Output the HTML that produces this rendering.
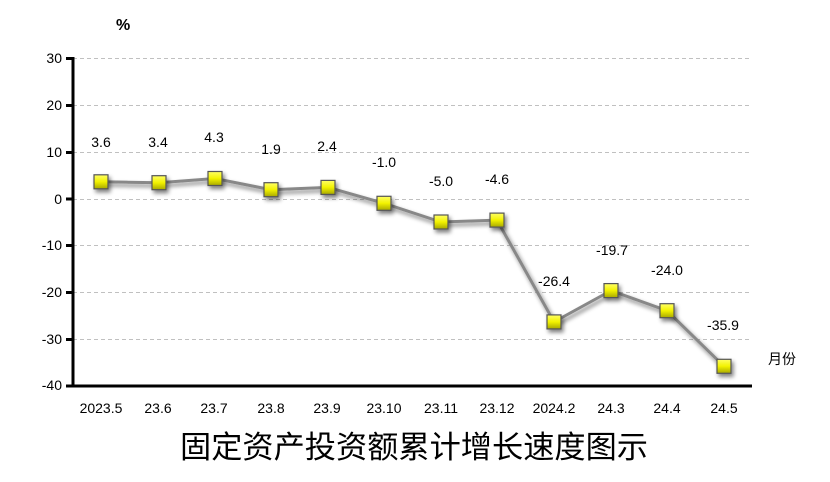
<!DOCTYPE html>
<html><head><meta charset="utf-8"><style>
html,body{margin:0;padding:0;background:#fff;}
svg{display:block;}
text{font-family:"Liberation Sans","Noto Sans CJK SC",sans-serif;}
</style></head><body>
<svg width="830" height="482" viewBox="0 0 830 482" xmlns="http://www.w3.org/2000/svg">
<defs>
<linearGradient id="g" x1="0" y1="0" x2="0" y2="1">
<stop offset="0" stop-color="#ffff66"/><stop offset="0.5" stop-color="#f2f200"/><stop offset="1" stop-color="#a8a800"/>
</linearGradient>
<filter id="sh" x="-50%" y="-50%" width="200%" height="200%"><feGaussianBlur in="SourceAlpha" stdDeviation="2"/><feOffset dx="2" dy="3"/><feComponentTransfer><feFuncA type="linear" slope="0.5"/></feComponentTransfer><feMerge><feMergeNode/><feMergeNode in="SourceGraphic"/></feMerge></filter>
</defs>
<g stroke="#c0c0c0" stroke-width="1" stroke-dasharray="4,3">
<line x1="73" y1="58.5" x2="752" y2="58.5"/>
<line x1="73" y1="105.5" x2="752" y2="105.5"/>
<line x1="73" y1="152.5" x2="752" y2="152.5"/>
<line x1="73" y1="199.5" x2="752" y2="199.5"/>
<line x1="73" y1="245.5" x2="752" y2="245.5"/>
<line x1="73" y1="292.5" x2="752" y2="292.5"/>
<line x1="73" y1="339.5" x2="752" y2="339.5"/>
</g>
<g stroke="#000" stroke-width="3">
<line x1="73" y1="57" x2="73" y2="387"/>
<line x1="72" y1="386" x2="752" y2="386"/>
</g>
<g stroke="#000" stroke-width="3">
<line x1="66" y1="58.5" x2="73" y2="58.5"/><line x1="66" y1="105.5" x2="73" y2="105.5"/><line x1="66" y1="152.5" x2="73" y2="152.5"/><line x1="66" y1="199" x2="73" y2="199"/><line x1="66" y1="245.5" x2="73" y2="245.5"/><line x1="66" y1="292.5" x2="73" y2="292.5"/><line x1="66" y1="339.5" x2="73" y2="339.5"/><line x1="66" y1="386" x2="73" y2="386"/>
</g>
<g font-size="14" text-anchor="end" fill="#000">
<text x="62" y="63">30</text><text x="62" y="110">20</text><text x="62" y="157">10</text><text x="62" y="204">0</text><text x="62" y="250">-10</text><text x="62" y="297">-20</text><text x="62" y="344">-30</text><text x="62" y="390">-40</text>
</g>
<text x="116" y="30" font-size="16" font-weight="bold">%</text>
<polyline fill="none" stroke="#888" stroke-width="3" filter="url(#sh)" points="101,181.8 159,182.7 215,178.5 271,189.7 328,187.4 384,203.3 441,222 497,220.1 554,321.9 611,290.6 667,310.7 724,366.3"/>
<g fill="url(#g)" stroke="#555" stroke-width="1.2" filter="url(#sh)">
<rect x="94" y="174.8" width="14" height="14"/><rect x="152" y="175.7" width="14" height="14"/><rect x="208" y="171.5" width="14" height="14"/><rect x="264" y="182.7" width="14" height="14"/><rect x="321" y="180.4" width="14" height="14"/><rect x="377" y="196.3" width="14" height="14"/><rect x="434" y="215" width="14" height="14"/><rect x="490" y="213.1" width="14" height="14"/><rect x="547" y="314.9" width="14" height="14"/><rect x="604" y="283.6" width="14" height="14"/><rect x="660" y="303.7" width="14" height="14"/><rect x="717" y="359.3" width="14" height="14"/>
</g>
<g font-size="14" text-anchor="middle" fill="#000">
<text x="101" y="147">3.6</text><text x="158" y="147">3.4</text><text x="214" y="142">4.3</text><text x="271" y="154">1.9</text><text x="327" y="151">2.4</text><text x="384" y="167">-1.0</text><text x="441" y="186">-5.0</text><text x="497" y="184">-4.6</text><text x="554" y="286">-26.4</text><text x="612" y="255">-19.7</text><text x="667" y="275">-24.0</text><text x="723" y="330">-35.9</text>
</g>
<text x="768" y="364" font-size="14">月份</text>
<g font-size="14" text-anchor="middle" fill="#000">
<text x="101" y="413">2023.5</text><text x="158" y="413">23.6</text><text x="214" y="413">23.7</text><text x="271" y="413">23.8</text><text x="327" y="413">23.9</text><text x="384" y="413">23.10</text><text x="441" y="413">23.11</text><text x="497" y="413">23.12</text><text x="554" y="413">2024.2</text><text x="611" y="413">24.3</text><text x="667" y="413">24.4</text><text x="724" y="413">24.5</text>
</g>
<text x="414" y="458" font-size="31" text-anchor="middle" textLength="468" lengthAdjust="spacingAndGlyphs" style="font-family:'Noto Sans CJK SC',sans-serif">固定资产投资额累计增长速度图示</text>
</svg>
</body></html>
